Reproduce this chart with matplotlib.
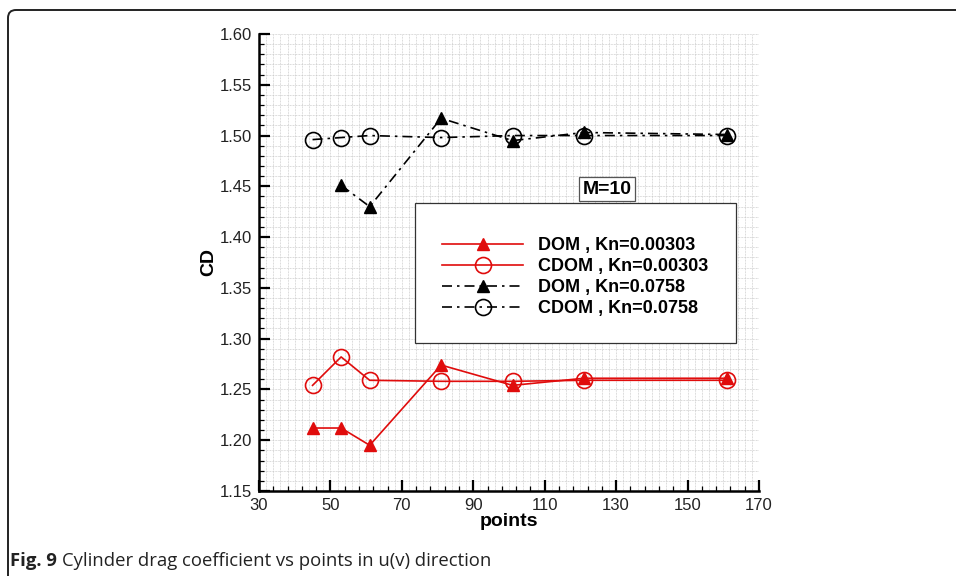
import matplotlib.pyplot as plt
import numpy as np
from matplotlib.patches import PathPatch
from matplotlib.path import Path
from matplotlib.ticker import MultipleLocator, FormatStrFormatter

plt.rcParams["font.family"] = ["Liberation Sans", "DejaVu Sans"]

# grid points in u(v) direction
points = [45, 53, 61, 81, 101, 121, 161]
points_dom_kn2 = [53, 61, 81, 101, 121, 161]

# drag coefficient
cd_dom_kn1 = [1.212, 1.212, 1.195, 1.274, 1.254, 1.261, 1.261]
cd_cdom_kn1 = [1.254, 1.282, 1.259, 1.258, 1.258, 1.259, 1.259]
cd_dom_kn2 = [1.451, 1.430, 1.517, 1.495, 1.503, 1.501]
cd_cdom_kn2 = [1.496, 1.498, 1.500, 1.498, 1.500, 1.500, 1.500]

labels = ["DOM , Kn=0.00303", "CDOM , Kn=0.00303",
          "DOM , Kn=0.0758", "CDOM , Kn=0.0758"]

RED = "#e00c0c"
DASHDOT = (0, (6, 3, 1.5, 3))

fig = plt.figure(figsize=(9.56, 5.76), dpi=100)
ax = fig.add_axes([0.2709, 0.1476, 0.523, 0.7934])

# fine dotted background grid
for gx in np.arange(30, 171, 2):
    ax.axvline(gx, color="#c4c4c4", lw=0.55, ls=(0, (1, 1)), zorder=0)
for gy in np.arange(1.15, 1.6001, 0.01):
    ax.axhline(gy, color="#c4c4c4", lw=0.55, ls=(0, (1, 1)), zorder=0)

ax.plot(points, cd_dom_kn1, color=RED, lw=1.2, marker="^", ms=8.5,
        mfc=RED, mec=RED, label=labels[0], zorder=3)
ax.plot(points, cd_cdom_kn1, color=RED, lw=1.2, marker="o", ms=11.5,
        mfc="none", mec=RED, mew=1.2, label=labels[1], zorder=3)
ax.plot(points_dom_kn2, cd_dom_kn2, color="k", lw=1.2, ls=DASHDOT,
        marker="^", ms=8.5, mfc="k", mec="k", label=labels[2], zorder=3)
ax.plot(points, cd_cdom_kn2, color="k", lw=1.2, ls=DASHDOT,
        marker="o", ms=11.5, mfc="none", mec="k", mew=1.2,
        label=labels[3], zorder=3)

ax.set_xlim(30, 170)
ax.set_ylim(1.15, 1.60)
ax.xaxis.set_major_locator(MultipleLocator(20, offset=10))
ax.xaxis.set_minor_locator(MultipleLocator(4, offset=2))
ax.yaxis.set_major_locator(MultipleLocator(0.05))
ax.yaxis.set_minor_locator(MultipleLocator(0.01))
ax.yaxis.set_major_formatter(FormatStrFormatter("%.2f"))

for side in ("top", "right"):
    ax.spines[side].set_visible(False)
for side in ("left", "bottom"):
    ax.spines[side].set_linewidth(1.8)
ax.tick_params(which="major", direction="in", length=8, width=1.6,
               labelsize=12, labelcolor="#222222", pad=5)
ax.tick_params(which="minor", direction="in", length=3.5, width=0.9)

ax.set_xlabel("points", fontsize=14, fontweight="bold", labelpad=0)
ax.set_ylabel("CD", fontsize=14, fontweight="bold", labelpad=2)

# legend panel
ax.add_patch(plt.Rectangle((0.312, 0.324), 0.642, 0.306,
                           transform=ax.transAxes, facecolor="white",
                           edgecolor="#333333", lw=0.9, zorder=4))
leg = ax.legend(loc="center left", bbox_to_anchor=(0.366, 0.468),
                frameon=False, handlelength=4.5, handletextpad=0.8,
                labelspacing=0.22, borderpad=0, borderaxespad=0,
                prop={"weight": "bold", "size": 13})
leg.set_zorder(5)

ax.text(0.696, 0.660, "M=10", transform=ax.transAxes, ha="center",
        va="center", fontsize=14, fontweight="bold", zorder=5,
        bbox=dict(boxstyle="square,pad=0.18", fc="white", ec="#555555",
                  lw=0.9))

# page frame: left and top edges joined by a rounded corner (pixels)
r = 8
x0, y_top = 8, 566
frame = Path([(x0, -10), (x0, y_top - r), (x0, y_top), (x0 + r, y_top),
              (1100, y_top)],
             [Path.MOVETO, Path.LINETO, Path.CURVE3, Path.CURVE3,
              Path.LINETO])
fig.add_artist(PathPatch(frame, transform=None, fill=False,
                         ec="#222222", lw=1.4))

cap_bold = fig.text(10 / 956, 10 / 576, "Fig. 9", fontsize=13.3,
                    fontweight="bold", family="Open Sans", color="#222222")
fig.canvas.draw()
bb = cap_bold.get_window_extent()
fig.text((bb.x1 + 5) / 956, 10 / 576,
         "Cylinder drag coefficient vs points in u(v) direction",
         fontsize=13.3, family="Open Sans", color="#222222")

fig.savefig("out.png", dpi=100)
